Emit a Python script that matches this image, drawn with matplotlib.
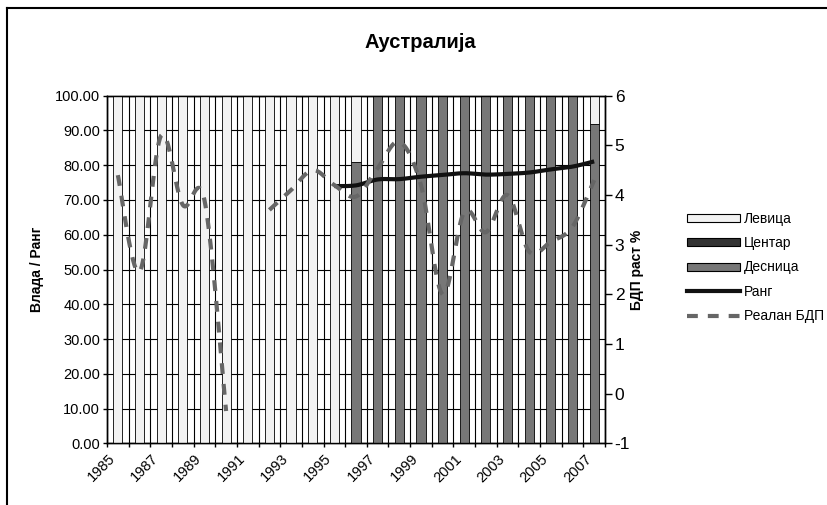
import numpy as np
import matplotlib.pyplot as plt
from matplotlib.lines import Line2D
from matplotlib.patches import Patch

plt.rcParams['font.family'] = ['Liberation Sans', 'DejaVu Sans']
plt.rcParams['axes.unicode_minus'] = False

# Подаци
years = list(range(1985, 2008))
levica = [100] * 11 + [19] + [0] * 10 + [8]
centar = [0] * 23
desnica = [0] * 11 + [81] + [100] * 10 + [92]
rang = [np.nan] * 10 + [74.0, 74.2, 75.9, 76.0, 76.7, 77.2, 77.7, 77.3, 77.5,
                        77.9, 78.8, 79.6, 81.1]
bdp = [4.4, 2.45, 5.2, 3.8, 3.9, -0.35, np.nan, 3.7, 4.1, 4.5, 4.2, 3.97,
       4.54, 5.07, 4.2, 2.0, 3.66, 3.25, 4.0, 2.86, 3.06, 3.36, 4.3]


def smooth(x, y, n=20):
    # Excel-like smoothed line (Bezier through the points), per unbroken segment
    x = np.asarray(x, float)
    y = np.asarray(y, float)
    out_x, out_y = [], []
    idx = np.where(~np.isnan(y))[0]
    segs = np.split(idx, np.where(np.diff(idx) != 1)[0] + 1)
    for s in segs:
        if len(s) < 2:
            continue
        px, py = x[s], y[s]
        sx, sy = [], []
        for i in range(len(s) - 1):
            p0 = i - 1 if i > 0 else i
            p3 = i + 2 if i + 2 < len(s) else i + 1
            c1x = px[i] + (px[i + 1] - px[p0]) / 6
            c1y = py[i] + (py[i + 1] - py[p0]) / 6
            c2x = px[i + 1] - (px[p3] - px[i]) / 6
            c2y = py[i + 1] - (py[p3] - py[i]) / 6
            t = np.linspace(0, 1, n)
            bx = (1 - t) ** 3 * px[i] + 3 * (1 - t) ** 2 * t * c1x + 3 * (1 - t) * t ** 2 * c2x + t ** 3 * px[i + 1]
            by = (1 - t) ** 3 * py[i] + 3 * (1 - t) ** 2 * t * c1y + 3 * (1 - t) * t ** 2 * c2y + t ** 3 * py[i + 1]
            sx.extend(bx)
            sy.extend(by)
        out_x.append(sx)
        out_y.append(sy)
    return out_x, out_y


fig = plt.figure(figsize=(8.28, 5.05), dpi=100)
ax = fig.add_axes([107 / 828, 1 - 443.3 / 505, 498 / 828, 347.6 / 505])
ax2 = ax.twinx()

x = np.arange(len(years))
w = 0.42
c_lev, c_cen, c_des = '#f2f2f2', '#333333', '#777777'
ax.bar(x, desnica, w, color=c_des, edgecolor='black', linewidth=0.6, zorder=3)
ax.bar(x, centar, w, bottom=desnica, color=c_cen, edgecolor='black', linewidth=0.6, zorder=3)
bot = np.array(desnica) + np.array(centar)
ax.bar(x, levica, w, bottom=bot, color=c_lev, edgecolor='black', linewidth=0.6, zorder=3)

for sx, sy in zip(*smooth(x, rang)):
    ax.plot(sx, sy, color='#111111', lw=3, zorder=5, solid_capstyle='butt')

ax.set_zorder(2)
ax.patch.set_visible(False)
ax2.set_zorder(3)
for sx, sy in zip(*smooth(x, bdp)):
    ax2.plot(sx, sy, color='#666666', lw=3, dashes=(2.6, 2.4), zorder=5)

ax.set_xlim(-0.5, len(years) - 0.5)
ax.set_ylim(0, 100)
ax.set_yticks(np.arange(0, 101, 10))
ax.set_yticklabels([f'{v:.2f}' for v in np.arange(0, 101, 10)], fontsize=10.5)
ax2.set_ylim(-1, 6)
ax2.set_yticks(range(-1, 7))
ax2.tick_params(axis='y', labelsize=12.5, length=5, width=1, direction='out', pad=2)

ax.set_xticks(x[::2])
ax.set_xticklabels([str(y) for y in years[::2]], rotation=45, ha='right', fontsize=10.5)
ax.set_xticks(np.arange(-0.5, len(years), 1), minor=True)
ax.tick_params(axis='x', which='major', length=0, pad=6)
ax.tick_params(axis='x', which='minor', length=3, width=1, direction='out')
ax.tick_params(axis='y', length=3, width=1, direction='out', pad=2)

ax.grid(axis='y', color='black', lw=0.8, zorder=0)
ax.grid(axis='x', which='minor', color='black', lw=0.8, zorder=0)
ax2.patch.set_visible(False)
for a in (ax, ax2):
    for s in a.spines.values():
        s.set_color('black')
        s.set_linewidth(1)

ax.set_ylabel('Влада / Ранг', fontsize=10, fontweight='bold', labelpad=8)
ax2.set_ylabel('БДП раст %', fontsize=10, fontweight='bold', labelpad=0)
fig.text(0.508, 1 - 42 / 505, 'Аустралија', ha='center', va='center',
         fontsize=14.5, fontweight='bold')

handles = [
    Patch(facecolor=c_lev, edgecolor='black', linewidth=0.8),
    Patch(facecolor=c_cen, edgecolor='black', linewidth=0.8),
    Patch(facecolor=c_des, edgecolor='black', linewidth=0.8),
    Line2D([], [], color='#111111', lw=3),
    Line2D([], [], color='#666666', lw=3, dashes=(2.6, 2.4)),
]
labels = ['Левица', 'Центар', 'Десница', 'Ранг', 'Реалан БДП']
fig.legend(handles, labels, loc='upper left', bbox_to_anchor=(680 / 828, 1 - 205 / 505),
           frameon=False, fontsize=10, handlelength=3.8, handleheight=0.5,
           handletextpad=0.3, labelspacing=0.74, borderpad=0)

# рам графика
fig.add_artist(Line2D([7 / 828, 7 / 828], [0, 1 - 8 / 505], color='black', lw=1.5,
                      transform=fig.transFigure))
fig.add_artist(Line2D([7 / 828, 1], [1 - 8 / 505, 1 - 8 / 505], color='black', lw=1.5,
                      transform=fig.transFigure))

fig.savefig('out.png', dpi=100)
